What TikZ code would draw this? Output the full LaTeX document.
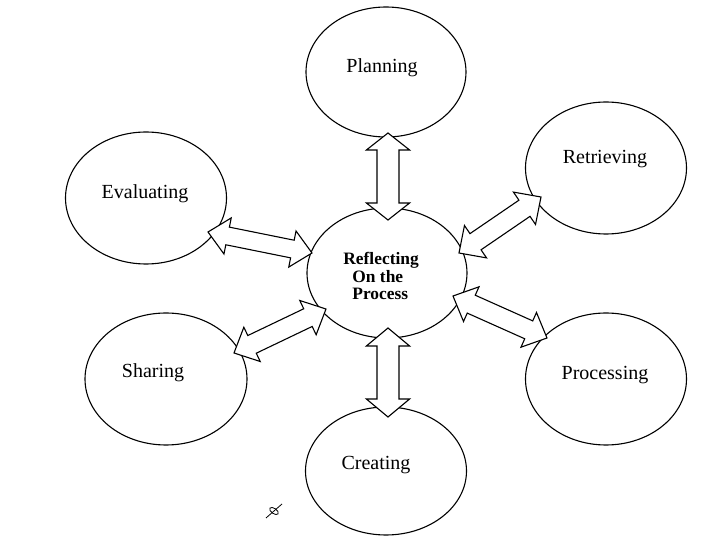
\documentclass[tikz,border=0pt]{standalone}
\usepackage{fontspec}
\setmainfont{Liberation Serif}
\usetikzlibrary{shapes.geometric,calc}
\tikzset{
  bubble/.style={draw=black, line width=0.55pt, ellipse, inner sep=0pt},
  lbl/.style={inner sep=0pt, font=\fontsize{10}{12}\selectfont},
  clbl/.style={inner sep=0pt, anchor=west, font=\fontsize{8.7}{10}\selectfont\bfseries},
  arr/.style={draw=black, fill=white, line width=0.55pt, line join=miter},
}
% #1 from, #2 to, #3 shaft half width, #4 head half width, #5 head length
\newcommand\blockarrow[5]{%
  \draw[arr] (#1)
    -- ($(#1)!#5!(#2)!#4!90:(#2)$)
    -- ($(#1)!#5!(#2)!#3!90:(#2)$)
    -- ($(#2)!#5!(#1)!#3!270:(#1)$)
    -- ($(#2)!#5!(#1)!#4!270:(#1)$)
    -- (#2)
    -- ($(#2)!#5!(#1)!#4!90:(#1)$)
    -- ($(#2)!#5!(#1)!#3!90:(#1)$)
    -- ($(#1)!#5!(#2)!#3!270:(#2)$)
    -- ($(#1)!#5!(#2)!#4!270:(#2)$)
    -- cycle;}
\begin{document}
\begin{tikzpicture}[x=0.5pt,y=-0.5pt]
\useasboundingbox (0,0) rectangle (720,540);
% ellipses
\node[bubble, minimum width=80pt, minimum height=65pt] (plan) at (386,72) {};
\node[bubble, minimum width=80.5pt, minimum height=66pt] (retr) at (606,168) {};
\node[bubble, minimum width=80.5pt, minimum height=66pt] (eval) at (146,198) {};
\node[bubble, minimum width=80pt, minimum height=65pt] (cent) at (387,273) {};
\node[bubble, minimum width=81pt, minimum height=66pt] (shar) at (166,379) {};
\node[bubble, minimum width=80.5pt, minimum height=66pt] (proc) at (606,379) {};
\node[bubble, minimum width=80.5pt, minimum height=64pt] (crea) at (386,471) {};
% labels
\node[lbl] (planT) at (382,68) {Planning};
\node[lbl] (retrT) at (605,159) {Retrieving};
\node[lbl] (evalT) at (145,194) {Evaluating};
\node[lbl] (sharT) at (153,373) {Sharing};
\node[lbl] (procT) at (605,375) {Processing};
\node[lbl] (creaT) at (376,465) {Creating};
\node[clbl] (c1) at (343,260) {Reflecting};
\node[clbl] (c2) at (352,277) {On the};
\node[clbl] (c3) at (352,294) {Process};
% arrow end points
\coordinate (a1s) at (388,133); \coordinate (a1e) at (388,220);
\coordinate (a2s) at (388,328); \coordinate (a2e) at (388,417);
\coordinate (a3s) at (208,232); \coordinate (a3e) at (312,253);
\coordinate (a4s) at (459,253); \coordinate (a4e) at (541,197);
\coordinate (a5s) at (234,353); \coordinate (a5e) at (326,309);
\coordinate (a6s) at (453,296); \coordinate (a6e) at (547,338);
% arrows
\blockarrow{a1s}{a1e}{5.5pt}{10.8pt}{8.5pt}
\blockarrow{a2s}{a2e}{5.5pt}{10.8pt}{9pt}
\blockarrow{a3s}{a3e}{4.5pt}{9.2pt}{10pt}
\blockarrow{a4s}{a4e}{4.9pt}{9.8pt}{10pt}
\blockarrow{a5s}{a5e}{4.9pt}{9.5pt}{10pt}
\blockarrow{a6s}{a6e}{4.9pt}{9.5pt}{10pt}
% small stray mark
\draw[line width=0.4pt, rotate around={-35:(274,511)}] (274,511) ellipse (5 and 2.6);
\draw[line width=0.4pt] (266,518) -- (282,504);
\end{tikzpicture}
\end{document}
